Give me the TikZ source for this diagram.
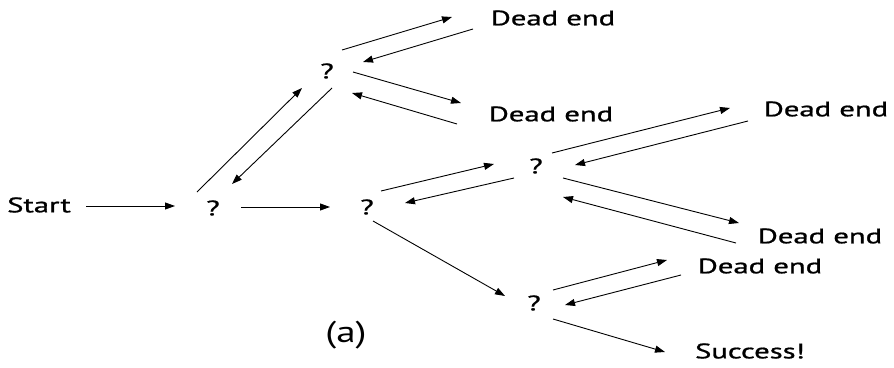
\documentclass[tikz,border=0pt]{standalone}
\usepackage{fontspec}
\setmainfont{PT Sans}[FakeBold=0.9]
\newfontfamily\plainfont{PT Sans}
\usetikzlibrary{arrows.meta}
\newcommand{\wtxt}[1]{\scalebox{1.46}[1]{#1}}
\tikzset{
  lbl/.style={inner sep=0pt, font=\fontsize{21}{23}\selectfont},
  arr/.style={line width=0.9pt, -{Triangle[length=10pt,width=7pt]}},
}
\begin{document}
\begin{tikzpicture}[x=1pt,y=-1pt]
\useasboundingbox (0,0) rectangle (894,367);
\node[lbl] (start) at (39,205) {\wtxt{Start}};
\node[lbl] (q1) at (213,208) {\wtxt{?}};
\node[lbl] (q2) at (367,207) {\wtxt{?}};
\node[lbl] (q3) at (327,71) {\wtxt{?}};
\node[lbl] (q4) at (536,166) {\wtxt{?}};
\node[lbl] (q5) at (534,303) {\wtxt{?}};
\node[lbl] (d1) at (553,18) {\wtxt{Dead end}};
\node[lbl] (d2) at (551,114) {\wtxt{Dead end}};
\node[lbl] (d3) at (826,109) {\wtxt{Dead end}};
\node[lbl] (d4) at (820,236) {\wtxt{Dead end}};
\node[lbl] (d5) at (760,266) {\wtxt{Dead end}};
\node[lbl] (succ) at (750,351) {\wtxt{Success!}};
\node[inner sep=0pt, font=\plainfont\fontsize{30}{33}\selectfont] (lab) at (346,335) {\scalebox{1.3}[1]{(a)}};

\draw[arr] ([shift={(47,1)}]start.center) -- ([shift={(-38,-2)}]q1.center);
\draw[arr] ([shift={(28,-1)}]q1.center) -- ([shift={(-37,0)}]q2.center);
\draw[arr] ([shift={(-16,-16)}]q1.center) -- ([shift={(-25,17)}]q3.center);
\draw[arr] ([shift={(5,17)}]q3.center) -- ([shift={(19,-24)}]q1.center);
\draw[arr] ([shift={(15,-21)}]q3.center) -- ([shift={(-101,-1)}]d1.center);
\draw[arr] ([shift={(-80,11)}]d1.center) -- ([shift={(36,-9)}]q3.center);
\draw[arr] ([shift={(26,1)}]q3.center) -- ([shift={(-90,-11)}]d2.center);
\draw[arr] ([shift={(-94,10)}]d2.center) -- ([shift={(25,22)}]q3.center);
\draw[arr] ([shift={(14,-16)}]q2.center) -- ([shift={(-42,-2)}]q4.center);
\draw[arr] ([shift={(-22,12)}]q4.center) -- ([shift={(38,-4)}]q2.center);
\draw[arr] ([shift={(16,-13)}]q4.center) -- ([shift={(-96,-1)}]d3.center);
\draw[arr] ([shift={(-78,12)}]d3.center) -- ([shift={(39,-1)}]q4.center);
\draw[arr] ([shift={(27,12)}]q4.center) -- ([shift={(-81,-13)}]d4.center);
\draw[arr] ([shift={(-84,7)}]d4.center) -- ([shift={(27,31)}]q4.center);
\draw[arr] ([shift={(6,14)}]q2.center) -- ([shift={(-29,-7)}]q5.center);
\draw[arr] ([shift={(19,-13)}]q5.center) -- ([shift={(-93,-6)}]d5.center);
\draw[arr] ([shift={(-79,9)}]d5.center) -- ([shift={(31,2)}]q5.center);
\draw[arr] ([shift={(19,16)}]q5.center) -- ([shift={(-85,1)}]succ.center);
\end{tikzpicture}
\end{document}
